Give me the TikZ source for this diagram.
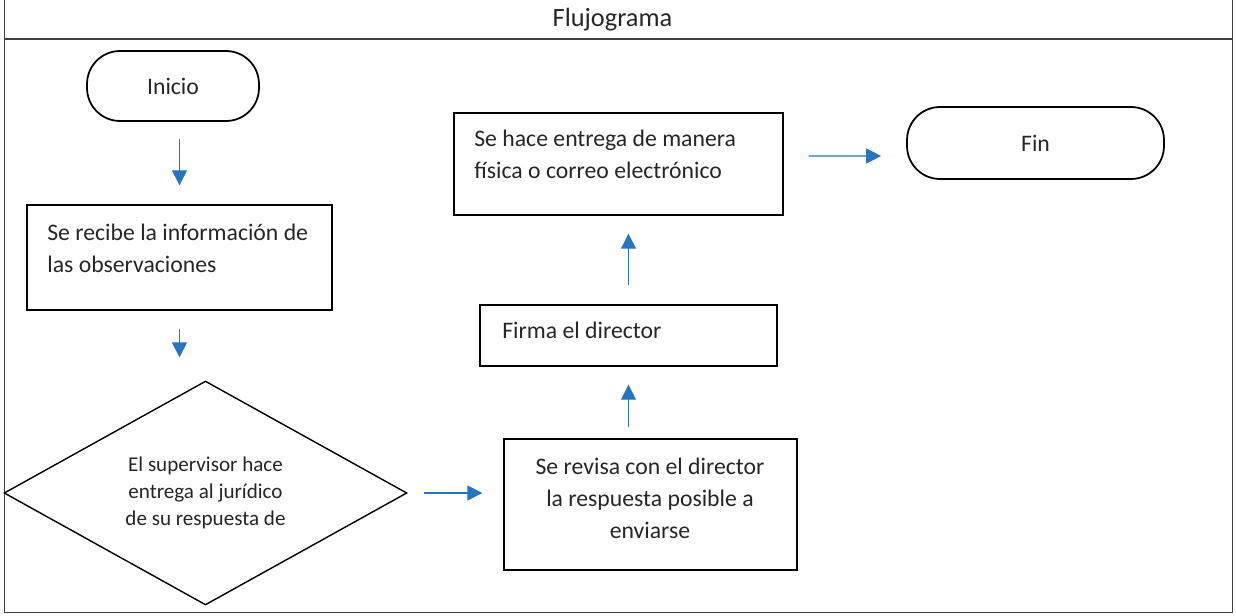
\documentclass[tikz,border=0pt]{standalone}
\usepackage{fontspec}
\setmainfont{Carlito}
\usetikzlibrary{positioning}
\usetikzlibrary{arrows.meta}
\usetikzlibrary{shapes.geometric}
\definecolor{flechaazul}{RGB}{38,117,190}

\begin{document}
\begin{tikzpicture}[x=0.02cm, y=-0.02cm, >={Triangle[length=8.5pt, width=8.5pt]},
    caja/.style={draw, line width=0.8pt, inner sep=0pt},
    terminal/.style={draw, line width=1pt, rounded corners=0.66cm, text=black!85, font=\fontsize{13.5}{18}\selectfont},
    texto/.style={inner sep=0pt, align=left, text=black!85, font=\fontsize{13.5}{18.2}\selectfont},
    flecha/.style={->, draw=flechaazul, line width=0.7pt}]
    \useasboundingbox (0,0) rectangle (1236,615);

    % marco
    \draw[line width=0.5pt, black!75] (4,0) -- (4,612) -- (1232,612) -- (1232,0);
    \draw[line width=0.6pt, black!75] (4,39) -- (1232,39);
    \node[font=\fontsize{15}{18}\selectfont, text=black!85] (titulo) at (612.5,20) {Flujograma};

    % nodos
    \node[terminal, minimum width=3.44cm, minimum height=1.4cm] (inicio) at (173,86) {Inicio};
    \node[caja, minimum width=6.1cm, minimum height=2.1cm] (recibe) at (179.5,257.5) {};
    \node[texto, anchor=west] (recibe-txt) at (47,248) {Se recibe la información de\\las observaciones};
    \node[draw, diamond, line width=0.8pt, inner sep=0pt, aspect=1.8, minimum width=8.06cm, minimum height=4.48cm,
        align=center, text=black!85, font=\fontsize{12}{15.3}\selectfont] (rombo) at (205.5,493)
        {El supervisor hace\\entrega al jurídico\\de su respuesta de};
    \node[caja, minimum width=5.86cm, minimum height=2.62cm] (revisa) at (650.5,504.5) {};
    \node[texto, align=center] (revisa-txt) at (650,498) {Se revisa con el director\\la respuesta posible a\\enviarse};
    \node[caja, minimum width=5.94cm, minimum height=1.22cm] (firma) at (628.5,335.5) {};
    \node[texto, anchor=west] (firma-txt) at (502,330) {Firma el director};
    \node[caja, minimum width=6.58cm, minimum height=2.04cm] (entrega) at (618.5,164) {};
    \node[texto, anchor=west] (entrega-txt) at (474,154.5) {Se hace entrega de manera\\física o correo electrónico};
    \node[terminal, minimum width=5.14cm, minimum height=1.44cm] (fin) at (1035.5,143) {Fin};

    % flechas
    \draw[flecha, shorten <=0.34cm, shorten >=0.38cm] (inicio.south -| recibe.north) -- (recibe.north);
    \draw[flecha, shorten <=0.36cm, shorten >=0.46cm] (recibe.south) -- (recibe.south |- rombo.north);
    \draw[flecha, shorten <=0.32cm, shorten >=0.42cm] (rombo.east) -- (rombo.east -| revisa.west);
    \draw[flecha, shorten <=0.22cm, shorten >=0.36cm] (firma.south |- revisa.north) -- (firma.south);
    \draw[flecha, shorten <=0.38cm, shorten >=0.36cm] (firma.north) -- (firma.north |- entrega.south);
    \draw[flecha, shorten <=0.5cm, shorten >=0.5cm] ([yshift=0.16cm]entrega.east) -- ([yshift=-0.26cm]fin.west);
\end{tikzpicture}
\end{document}
